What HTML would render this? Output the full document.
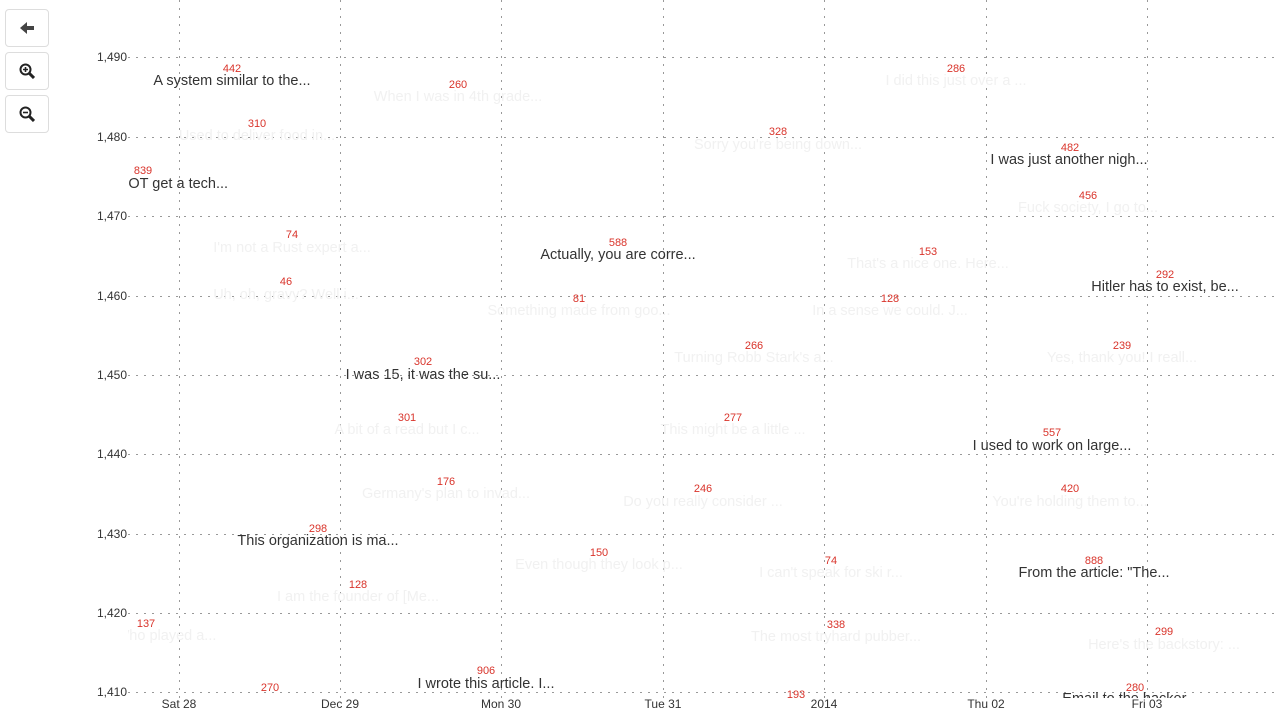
<!DOCTYPE html>
<html><head><meta charset="utf-8"><style>
body{margin:0;width:1280px;height:720px;background:#fff;font-family:"Liberation Sans",sans-serif;position:relative;overflow:hidden}
.btn{position:absolute;left:5px;width:42px;height:36px;border:1px solid #ddd;border-radius:4px;background:#fff;display:flex;align-items:center;justify-content:center}
.yl{position:absolute;left:60px;width:67px;text-align:right;font-size:12px;color:#333}
.xl{position:absolute;top:697px;font-size:12px;color:#333;transform:translateX(-50%)}
#plot{position:absolute;left:128px;top:0;width:1147px;height:698px;overflow:hidden}
.n{position:absolute;font-size:11px;color:#d9342b;transform:translateX(-50%);white-space:nowrap}
.t{position:absolute;font-size:14.5px;color:#333;transform:translateX(-50%);white-space:nowrap}
.f{color:#f1f1f1}
</style></head><body>
<div class="btn" style="top:9px"><svg width="16" height="14"><path d="M1 7 L8 1 L8 5 L15 5 L15 9 L8 9 L8 13Z" fill="#444"/></svg></div>
<div class="btn" style="top:52px"><svg width="16" height="16"><circle cx="6.5" cy="6.5" r="5" stroke="#222" stroke-width="2" fill="none"/><path d="M10 10 L15 15" stroke="#222" stroke-width="3"/><path d="M4 6.5h5M6.5 4v5" stroke="#222" stroke-width="1.6"/></svg></div>
<div class="btn" style="top:95px"><svg width="16" height="16"><circle cx="6.5" cy="6.5" r="5" stroke="#222" stroke-width="2" fill="none"/><path d="M10 10 L15 15" stroke="#222" stroke-width="3"/><path d="M4 6.5h5" stroke="#222" stroke-width="1.6"/></svg></div>
<svg style="position:absolute;left:0;top:0" width="1280" height="720">
<g stroke="#999" stroke-width="1" stroke-dasharray="2,6">
<line x1="128" x2="1275" y1="57.5" y2="57.5"/><line x1="128" x2="1275" y1="137.5" y2="137.5"/><line x1="128" x2="1275" y1="216.5" y2="216.5"/><line x1="128" x2="1275" y1="296.5" y2="296.5"/><line x1="128" x2="1275" y1="375.5" y2="375.5"/><line x1="128" x2="1275" y1="454.5" y2="454.5"/><line x1="128" x2="1275" y1="534.5" y2="534.5"/><line x1="128" x2="1275" y1="613.5" y2="613.5"/><line x1="128" x2="1275" y1="692.5" y2="692.5"/>
<line y1="0" y2="698" x1="179.5" x2="179.5"/><line y1="0" y2="698" x1="340.5" x2="340.5"/><line y1="0" y2="698" x1="501.5" x2="501.5"/><line y1="0" y2="698" x1="663.5" x2="663.5"/><line y1="0" y2="698" x1="824.5" x2="824.5"/><line y1="0" y2="698" x1="986.5" x2="986.5"/><line y1="0" y2="698" x1="1147.5" x2="1147.5"/>
</g></svg>
<div class="yl" style="top:50px">1,490</div><div class="yl" style="top:130px">1,480</div><div class="yl" style="top:209px">1,470</div><div class="yl" style="top:289px">1,460</div><div class="yl" style="top:368px">1,450</div><div class="yl" style="top:447px">1,440</div><div class="yl" style="top:527px">1,430</div><div class="yl" style="top:606px">1,420</div><div class="yl" style="top:685px">1,410</div>
<div class="xl" style="left:179px">Sat 28</div><div class="xl" style="left:340px">Dec 29</div><div class="xl" style="left:501px">Mon 30</div><div class="xl" style="left:663px">Tue 31</div><div class="xl" style="left:824px">2014</div><div class="xl" style="left:986px">Thu 02</div><div class="xl" style="left:1147px">Fri 03</div>
<div id="plot">
<div class="t f" style="left:330px;top:89px">When I was in 4th grade...</div><div class="n" style="left:330px;top:79px">260</div>
<div class="t f" style="left:129px;top:128px">Used to deliver food in...</div><div class="n" style="left:129px;top:118px">310</div>
<div class="t f" style="left:828px;top:73px">I did this just over a ...</div><div class="n" style="left:828px;top:63px">286</div>
<div class="t f" style="left:650px;top:137px">Sorry you're being down...</div><div class="n" style="left:650px;top:126px">328</div>
<div class="t f" style="left:960px;top:200px">Fuck society, I go to...</div><div class="n" style="left:960px;top:190px">456</div>
<div class="t f" style="left:164px;top:240px">I'm not a Rust expert a...</div><div class="n" style="left:164px;top:229px">74</div>
<div class="t f" style="left:158px;top:287px">Uh, oh, gravy? Well i...</div><div class="n" style="left:158px;top:276px">46</div>
<div class="t f" style="left:800px;top:256px">That's a nice one. Here...</div><div class="n" style="left:800px;top:246px">153</div>
<div class="t f" style="left:451px;top:303px">Something made from goo...</div><div class="n" style="left:451px;top:293px">81</div>
<div class="t f" style="left:762px;top:303px">In a sense we could. J...</div><div class="n" style="left:762px;top:293px">128</div>
<div class="t f" style="left:626px;top:350px">Turning Robb Stark's a...</div><div class="n" style="left:626px;top:340px">266</div>
<div class="t f" style="left:994px;top:350px">Yes, thank you! I reall...</div><div class="n" style="left:994px;top:340px">239</div>
<div class="t f" style="left:279px;top:422px">A bit of a read but I c...</div><div class="n" style="left:279px;top:412px">301</div>
<div class="t f" style="left:605px;top:422px">This might be a little ...</div><div class="n" style="left:605px;top:412px">277</div>
<div class="t f" style="left:318px;top:486px">Germany's plan to invad...</div><div class="n" style="left:318px;top:476px">176</div>
<div class="t f" style="left:575px;top:494px">Do you really consider ...</div><div class="n" style="left:575px;top:483px">246</div>
<div class="t f" style="left:942px;top:494px">You're holding them to...</div><div class="n" style="left:942px;top:483px">420</div>
<div class="t f" style="left:471px;top:557px">Even though they look p...</div><div class="n" style="left:471px;top:547px">150</div>
<div class="t f" style="left:703px;top:565px">I can't speak for ski r...</div><div class="n" style="left:703px;top:555px">74</div>
<div class="t f" style="left:230px;top:589px">I am the founder of [Me...</div><div class="n" style="left:230px;top:579px">128</div>
<div class="t f" style="left:38px;top:628px">Who played a...</div><div class="n" style="left:18px;top:618px">137</div>
<div class="t f" style="left:708px;top:629px">The most tryhard pubber...</div><div class="n" style="left:708px;top:619px">338</div>
<div class="t f" style="left:1036px;top:637px">Here's the backstory: ...</div><div class="n" style="left:1036px;top:626px">299</div>
<div class="n" style="left:142px;top:682px">270</div><div class="n" style="left:668px;top:689px">193</div>
<div class="t" style="left:104px;top:73px">A system similar to the...</div><div class="n" style="left:104px;top:63px">442</div>
<div class="t" style="left:45px;top:176px">NOT get a tech...</div><div class="n" style="left:15px;top:165px">839</div>
<div class="t" style="left:490px;top:247px">Actually, you are corre...</div><div class="n" style="left:490px;top:237px">588</div>
<div class="t" style="left:941px;top:152px">I was just another nigh...</div><div class="n" style="left:942px;top:142px">482</div>
<div class="t" style="left:1037px;top:279px">Hitler has to exist, be...</div><div class="n" style="left:1037px;top:269px">292</div>
<div class="t" style="left:295px;top:367px">I was 15, it was the su...</div><div class="n" style="left:295px;top:356px">302</div>
<div class="t" style="left:924px;top:438px">I used to work on large...</div><div class="n" style="left:924px;top:427px">557</div>
<div class="t" style="left:190px;top:533px">This organization is ma...</div><div class="n" style="left:190px;top:523px">298</div>
<div class="t" style="left:966px;top:565px">From the article: "The...</div><div class="n" style="left:966px;top:555px">888</div>
<div class="t" style="left:358px;top:676px">I wrote this article. I...</div><div class="n" style="left:358px;top:665px">906</div>
<div class="t" style="left:1002px;top:691px">Email to the hacker...</div><div class="n" style="left:1007px;top:682px">280</div>
</div>
</body></html>
